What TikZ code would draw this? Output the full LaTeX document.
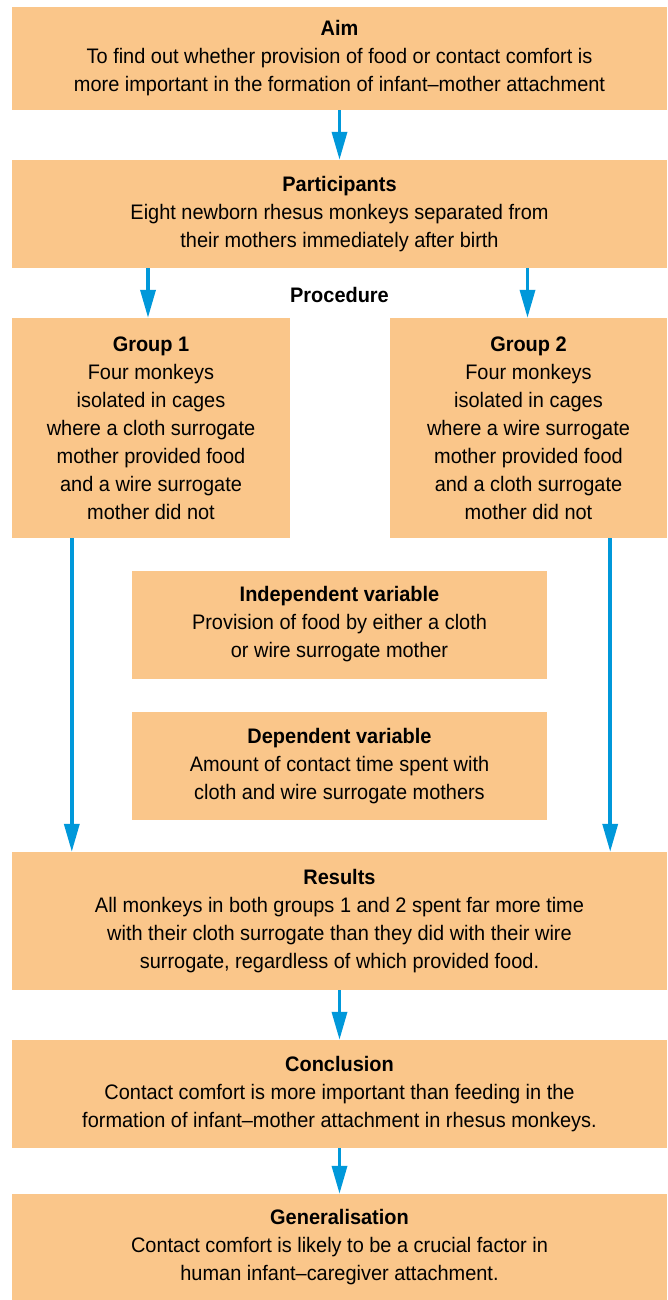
\documentclass[tikz,border=0pt]{standalone}
\usepackage{fontspec}
\setmainfont{Liberation Sans}[FakeStretch=0.95]
\usetikzlibrary{arrows.meta,calc}
\definecolor{boxclr}{RGB}{250,198,138}
\definecolor{flowclr}{RGB}{0,152,218}
\tikzset{
    stage/.style={rectangle,fill=boxclr,align=center,inner sep=0pt,
        font=\fontsize{21}{28}\selectfont},
    wide/.style={stage,minimum width=655pt},
    half/.style={stage,minimum width=278pt,minimum height=220pt},
    mid/.style={stage,minimum width=415pt,minimum height=108pt},
    flow/.style={-{Triangle[length=28pt,width=15pt]},line width=3.5pt,draw=flowclr},
}

\begin{document}
\begin{tikzpicture}[x=1pt,y=-1pt]
\useasboundingbox (0,0) rectangle (667,1300);

\node[wide,minimum height=103pt] (aim) at (339.5,58.5)
  {\textbf{Aim}\\To find out whether provision of food or contact comfort is\\more important in the formation of infant--mother attachment};
\node[wide,minimum height=108pt] (part) at (339.5,214)
  {\textbf{Participants}\\Eight newborn rhesus monkeys separated from\\their mothers immediately after birth};
\node[font=\fontsize{21}{28}\selectfont\bfseries] (proc) at (339.5,295) {Procedure};

\node[half] (grp1) at (151,428)
  {\textbf{Group 1}\\Four monkeys\\isolated in cages\\where a cloth surrogate\\mother provided food\\and a wire surrogate\\mother did not};
\node[half,minimum width=277pt] (grp2) at (528.5,428)
  {\textbf{Group 2}\\Four monkeys\\isolated in cages\\where a wire surrogate\\mother provided food\\and a cloth surrogate\\mother did not};

\node[mid] (iv) at (339.5,624.5)
  {\textbf{Independent variable}\\Provision of food by either a cloth\\or wire surrogate mother};
\node[mid] (dv) at (339.5,766)
  {\textbf{Dependent variable}\\Amount of contact time spent with\\cloth and wire surrogate mothers};

\node[wide,minimum height=138pt] (res) at (339.5,921)
  {\textbf{Results}\\All monkeys in both groups 1 and 2 spent far more time\\with their cloth surrogate than they did with their wire\\surrogate, regardless of which provided food.};
\node[wide,minimum height=108pt] (conc) at (339.5,1094)
  {\textbf{Conclusion}\\Contact comfort is more important than feeding in the\\formation of infant--mother attachment in rhesus monkeys.};
\node[wide,minimum height=106pt] (gen) at (339.5,1247)
  {\textbf{Generalisation}\\Contact comfort is likely to be a crucial factor in\\human infant--caregiver attachment.};

% connectors
\draw[flow] (aim.south) -- (part.north);
\draw[flow] ([xshift=-3]part.south -| grp1.north) -- ([xshift=-3]grp1.north);
\draw[flow] ([xshift=-1]part.south -| grp2.north) -- ([xshift=-1]grp2.north);
\draw[flow] ([xshift=60]grp1.south west) -- ([xshift=60]grp1.south west |- res.north);
\draw[flow] ([xshift=-57]grp2.south east) -- ([xshift=-57]grp2.south east |- res.north);
\draw[flow] (res.south) -- (conc.north);
\draw[flow] (conc.south) -- (gen.north);
\end{tikzpicture}
\end{document}
